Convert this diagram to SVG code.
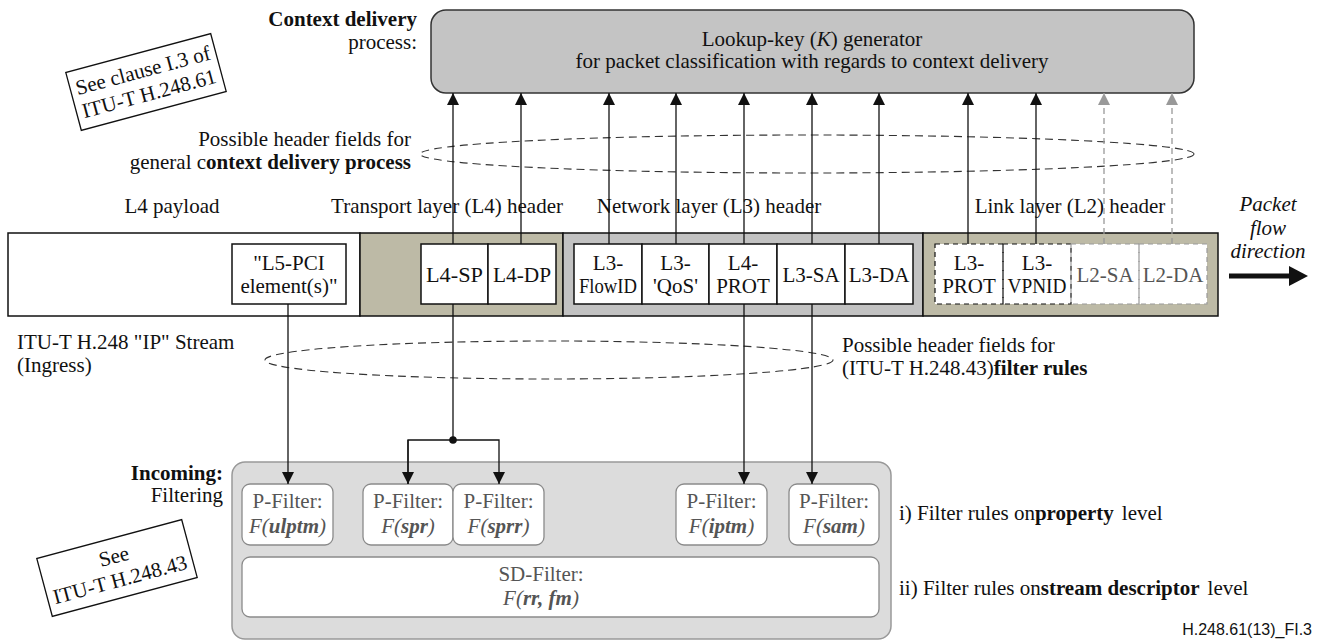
<svg xmlns="http://www.w3.org/2000/svg" width="1325" height="641" viewBox="0 0 1325 641">
<defs>
<style>
text{font-family:"Liberation Serif","Times New Roman",serif;font-size:21px;fill:#111}
.b{font-weight:bold}
.i{font-style:italic}
.c{text-anchor:middle}
.e{text-anchor:end}
.fld{fill:#fff;stroke:#111;stroke-width:1.5}
.dfld{fill:none;stroke:#111;stroke-width:1.2;stroke-dasharray:5,4}
.gfld{fill:none;stroke:#999;stroke-width:1.2;stroke-dasharray:5,4}
.ln{stroke:#111;stroke-width:1.3;fill:none}
.gln{stroke:#999;stroke-width:1.3;fill:none;stroke-dasharray:6,4}
.ell{fill:none;stroke:#333;stroke-width:1.1;stroke-dasharray:8,5}
.pf{fill:#fff;stroke:#8a8a8a;stroke-width:1.3}
.gt{fill:#555}
</style>
<marker id="ah" markerUnits="userSpaceOnUse" markerWidth="12" markerHeight="12" refX="12" refY="6" orient="auto"><path d="M0,0 L12,6 L0,12 z" fill="#111"/></marker>
<marker id="gah" markerUnits="userSpaceOnUse" markerWidth="12" markerHeight="12" refX="12" refY="6" orient="auto"><path d="M0,0 L12,6 L0,12 z" fill="#999"/></marker>
</defs>
<rect width="1325" height="641" fill="#fff"/>

<g id="context-label">
<text x="417" y="26" class="e b">Context delivery</text>
<text x="417" y="49" class="e">process:</text>
</g>

<g id="see-161">
<g transform="translate(146,82) rotate(-15)">
<rect x="-75" y="-30" width="150" height="60" fill="#fff" stroke="#111" stroke-width="1.3"/>
<text x="0" y="-5" class="c">See clause I.3 of</text>
<text x="0" y="19" class="c">ITU-T H.248.61</text>
</g>
</g>

<g id="lookup">
<rect x="431" y="10" width="763" height="83" rx="15" fill="#c4c4c4" stroke="#333" stroke-width="1.5"/>
<text x="812" y="46" class="c">Lookup-key (<tspan class="i">K</tspan>) generator</text>
<text x="812" y="68" class="c">for packet classification with regards to context delivery</text>
</g>

<g id="possible-context">
<text x="411" y="146" class="e">Possible header fields for</text>
<text x="411" y="169" class="e">general c<tspan class="b">ontext delivery process</tspan></text>
<ellipse cx="807" cy="154" rx="387" ry="19" class="ell"/>
</g>

<g id="layer-labels">
<text x="172" y="213" class="c">L4 payload</text>
<text x="447" y="213" class="c">Transport layer (L4) header</text>
<text x="709" y="213" class="c">Network layer (L3) header</text>
<text x="1070" y="213" class="c">Link layer (L2) header</text>
</g>

<g id="packet-band">
<rect x="8" y="233" width="352" height="83" fill="#fff" stroke="#111" stroke-width="1.5"/>
<rect x="360" y="233" width="203" height="83" fill="#bdbaa6" stroke="#111" stroke-width="1.5"/>
<rect x="563" y="233" width="360" height="83" fill="#c2c2c2" stroke="#111" stroke-width="1.5"/>
<rect x="923" y="233" width="295" height="83" fill="#bdbaa6" stroke="#111" stroke-width="1.5"/>
</g>

<g id="f-l5pci"><rect x="232" y="244" width="114" height="60" class="fld"/><text x="289" y="270" class="c">"L5-PCI</text><text x="289" y="293" class="c">element(s)"</text></g>
<g id="f-l4sp"><rect x="421" y="244" width="67" height="60" class="fld"/><text x="454.5" y="282" class="c" textLength="57" lengthAdjust="spacingAndGlyphs">L4-SP</text></g>
<g id="f-l4dp"><rect x="488" y="244" width="68" height="60" class="fld"/><text x="522" y="282" class="c" textLength="58" lengthAdjust="spacingAndGlyphs">L4-DP</text></g>
<g id="f-l3flow"><rect x="574" y="244" width="68" height="60" class="fld"/><text x="608" y="270" class="c">L3-</text><text x="608" y="293" class="c" textLength="58" lengthAdjust="spacingAndGlyphs">FlowID</text></g>
<g id="f-l3qos"><rect x="642" y="244" width="67" height="60" class="fld"/><text x="675.5" y="270" class="c">L3-</text><text x="675.5" y="293" class="c">'QoS'</text></g>
<g id="f-l4prot"><rect x="709" y="244" width="68" height="60" class="fld"/><text x="743" y="270" class="c">L4-</text><text x="743" y="293" class="c">PROT</text></g>
<g id="f-l3sa"><rect x="777" y="244" width="68" height="60" class="fld"/><text x="811" y="282" class="c">L3-SA</text></g>
<g id="f-l3da"><rect x="845" y="244" width="68" height="60" class="fld"/><text x="879" y="282" class="c">L3-DA</text></g>
<g id="f-link">
<rect x="935" y="244" width="272" height="60" fill="#fff"/>
</g>
<g id="f-l3prot"><rect x="935" y="244" width="68" height="60" class="dfld"/><text x="969" y="270" class="c">L3-</text><text x="969" y="293" class="c">PROT</text></g>
<g id="f-l3vpnid"><rect x="1003" y="244" width="68" height="60" class="dfld"/><text x="1037" y="270" class="c">L3-</text><text x="1037" y="293" class="c" textLength="59" lengthAdjust="spacingAndGlyphs">VPNID</text></g>
<g id="f-l2sa"><rect x="1071" y="244" width="68" height="60" class="gfld"/><text x="1105" y="282" class="c gt">L2-SA</text></g>
<g id="f-l2da"><rect x="1139" y="244" width="68" height="60" class="gfld"/><text x="1173" y="282" class="c gt">L2-DA</text></g>

<g id="packet-flow">
<text x="1268" y="211" class="c i">Packet</text>
<text x="1268" y="235" class="c i">flow</text>
<text x="1268" y="258" class="c i">direction</text>
<line x1="1229" y1="276" x2="1292" y2="276" stroke="#111" stroke-width="5"/>
<polygon points="1289,266 1308,276 1289,286" fill="#111"/>
</g>

<g id="stream-label">
<text x="17" y="349">ITU-T H.248 "IP" Stream</text>
<text x="17" y="372">(Ingress)</text>
</g>

<g id="possible-filter">
<ellipse cx="549" cy="360" rx="284" ry="19" class="ell"/>
<text x="842" y="352">Possible header fields for</text>
<text x="842" y="375">(ITU-T H.248.43)<tspan class="b">filter rules</tspan></text>
</g>

<g id="filtering">
<text x="223" y="480" class="e b">Incoming:</text>
<text x="223" y="502" class="e">Filtering</text>
<rect x="232" y="462" width="659" height="177" rx="13" fill="#dcdcdc" stroke="#999" stroke-width="1.5"/>
</g>

<g id="pf-ulptm"><rect x="242" y="484" width="91" height="61" rx="8" class="pf"/><text x="287.5" y="508" class="c gt">P-Filter:</text><text x="287.5" y="533" class="c gt i">F(<tspan class="b">ulptm</tspan>)</text></g>
<g id="pf-spr"><rect x="363" y="484" width="90" height="61" rx="8" class="pf"/><text x="408" y="508" class="c gt">P-Filter:</text><text x="408" y="533" class="c gt i">F(<tspan class="b">spr</tspan>)</text></g>
<g id="pf-sprr"><rect x="453" y="484" width="91" height="61" rx="8" class="pf"/><text x="498.5" y="508" class="c gt">P-Filter:</text><text x="498.5" y="533" class="c gt i">F(<tspan class="b">sprr</tspan>)</text></g>
<g id="pf-iptm"><rect x="676" y="484" width="91" height="61" rx="8" class="pf"/><text x="721.5" y="508" class="c gt">P-Filter:</text><text x="721.5" y="533" class="c gt i">F(<tspan class="b">iptm</tspan>)</text></g>
<g id="pf-sam"><rect x="789" y="484" width="90" height="61" rx="8" class="pf"/><text x="834" y="508" class="c gt">P-Filter:</text><text x="834" y="533" class="c gt i">F(<tspan class="b">sam</tspan>)</text></g>
<g id="sd-filter"><rect x="242" y="557" width="637" height="60" rx="8" class="pf"/><text x="541" y="581" class="c gt">SD-Filter:</text><text x="541" y="605" class="c gt i">F(<tspan class="b">rr, fm</tspan>)</text></g>

<g id="see-143">
<g transform="translate(117,568) rotate(-15)">
<rect x="-75" y="-30" width="150" height="60" fill="#fff" stroke="#111" stroke-width="1.3"/>
<text x="0" y="-5" class="c">See</text>
<text x="0" y="19" class="c">ITU-T H.248.43</text>
</g>
</g>

<g id="rule-labels">
<text x="899" y="520">i) Filter rules on<tspan class="b">property</tspan><tspan dx="8">level</tspan></text>
<text x="899" y="595">ii) Filter rules on<tspan class="b">stream descriptor</tspan><tspan dx="8">level</tspan></text>
<text x="1312" y="635" class="e" style="font-family:'Liberation Sans',Arial,sans-serif;font-size:16px">H.248.61(13)_FI.3</text>
</g>

<g id="connectors">
<line x1="453" y1="244" x2="453" y2="93" class="ln" marker-end="url(#ah)"/>
<line x1="521" y1="244" x2="521" y2="93" class="ln" marker-end="url(#ah)"/>
<line x1="609" y1="244" x2="609" y2="93" class="ln" marker-end="url(#ah)"/>
<line x1="676" y1="244" x2="676" y2="93" class="ln" marker-end="url(#ah)"/>
<line x1="744" y1="244" x2="744" y2="93" class="ln" marker-end="url(#ah)"/>
<line x1="812" y1="244" x2="812" y2="93" class="ln" marker-end="url(#ah)"/>
<line x1="879" y1="244" x2="879" y2="93" class="ln" marker-end="url(#ah)"/>
<line x1="968" y1="244" x2="968" y2="93" class="ln" marker-end="url(#ah)"/>
<line x1="1036" y1="244" x2="1036" y2="93" class="ln" marker-end="url(#ah)"/>
<line x1="1104" y1="244" x2="1104" y2="93" class="gln" marker-end="url(#gah)"/>
<line x1="1172" y1="244" x2="1172" y2="93" class="gln" marker-end="url(#gah)"/>
<line x1="288" y1="304" x2="288" y2="484" class="ln" marker-end="url(#ah)"/>
<line x1="453" y1="304" x2="453" y2="440" class="ln" stroke-width="1.8"/>
<polyline points="408,484 408,440 499,440 499,484" class="ln" marker-end="url(#ah)"/>
<line x1="408" y1="440" x2="408" y2="484" class="ln" marker-end="url(#ah)"/>
<circle cx="453" cy="440" r="3.8" fill="#111"/>
<line x1="744" y1="304" x2="744" y2="484" class="ln" marker-end="url(#ah)"/>
<line x1="812" y1="304" x2="812" y2="484" class="ln" marker-end="url(#ah)"/>
</g>
</svg>
